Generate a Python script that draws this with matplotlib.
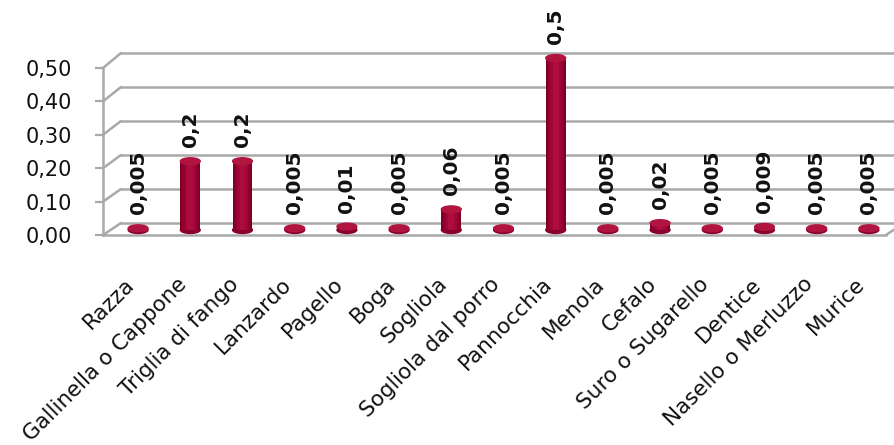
import matplotlib
matplotlib.use("Agg")
import matplotlib.pyplot as plt
from matplotlib.patches import Ellipse, ConnectionPatch

# data
categories = ["Razza", "Gallinella o Cappone", "Triglia di fango", "Lanzardo",
              "Pagello", "Boga", "Sogliola", "Sogliola dal porro", "Pannocchia",
              "Menola", "Cefalo", "Suro o Sugarello", "Dentice",
              "Nasello o Merluzzo", "Murice"]
values = [0.005, 0.2, 0.2, 0.005, 0.01, 0.005, 0.06, 0.005, 0.5,
          0.005, 0.02, 0.005, 0.009, 0.005, 0.005]
yticks = [0.0, 0.1, 0.2, 0.3, 0.4, 0.5]
ytick_labels = ["0,00", "0,10", "0,20", "0,30", "0,40", "0,50"]

W, H = 894, 445
plt.rcParams['font.family'] = ['DejaVu Sans']
fig = plt.figure(figsize=(W / 100, H / 100), dpi=100)


def px_axes(left, top, right, bottom):
    # axes from pixel box (image coords, y down)
    return fig.add_axes([left / W, 1 - bottom / H, (right - left) / W, (bottom - top) / H])


grid_col = "#a9a9a9"
n = len(categories)
xlim = (-0.5, n - 0.5)

# back wall (gridlines)
back = px_axes(121, 53, 904, 223)
back.set_xlim(xlim)
back.set_ylim(0, 0.5)
back.axis("off")
for v in yticks:
    back.axhline(v, color=grid_col, lw=1.8, clip_on=False)

# front plane: y axis and floor edge
ax = px_axes(103, 68, 886, 235)
ax.set_xlim(xlim)
ax.set_ylim(0, 0.5)
ax.patch.set_visible(False)
for s in ["top", "right"]:
    ax.spines[s].set_visible(False)
ax.spines["left"].set_color(grid_col)
ax.spines["left"].set_linewidth(1.8)
ax.spines["bottom"].set_color(grid_col)
ax.spines["bottom"].set_linewidth(1.8)
ax.set_yticks(yticks)
ax.set_yticklabels(ytick_labels, fontsize=15, color="#111111")
ax.tick_params(axis="y", length=6, width=1.6, color=grid_col, pad=16)
ax.set_xticks([])

# side wall diagonals
for v in yticks:
    con = ConnectionPatch(xyA=(0, v), coordsA=ax.get_yaxis_transform(),
                          xyB=(0, v), coordsB=back.get_yaxis_transform(),
                          color=grid_col, lw=1.8)
    fig.add_artist(con)
con = ConnectionPatch(xyA=(1, 0), coordsA=ax.transAxes,
                      xyB=(1, 0), coordsB=back.transAxes,
                      color=grid_col, lw=1.8)
fig.add_artist(con)

# category labels
for i, name in enumerate(categories):
    ax.annotate(name, xy=(i, 0), xytext=(1.5, -33), textcoords="offset points",
                rotation=45, ha="right", va="center", rotation_mode="anchor",
                fontsize=15.5, color="#111111", annotation_clip=False)

# bars, drawn at mid depth
bx = px_axes(112, 58, 895, 230)
bx.set_xlim(xlim)
bx.set_ylim(0, 0.5)
bx.axis("off")
xs = list(range(n))
bw = 0.38
ell_h = 0.02
shades = [(1.0, "#7e0029"), (0.8, "#92002f"), (0.55, "#a30537"), (0.3, "#ad0d3e")]
for frac, col in shades:
    bx.bar(xs, values, width=bw * frac, color=col, linewidth=0, clip_on=False, zorder=2)
for i, v in enumerate(values):
    bx.add_patch(Ellipse((i, 0), bw, ell_h, color="#8a002d", zorder=1, clip_on=False))
    bx.add_patch(Ellipse((i, v), bw, ell_h, color="#b0143f", zorder=3, clip_on=False))
    bx.annotate(f"{v:g}".replace(".", ","), xy=(i, v), xytext=(0, 10),
                textcoords="offset points", rotation=90, ha="center", va="bottom",
                fontsize=14.5, fontweight="bold", color="#111111", annotation_clip=False)

fig.savefig("out.png", dpi=100)
